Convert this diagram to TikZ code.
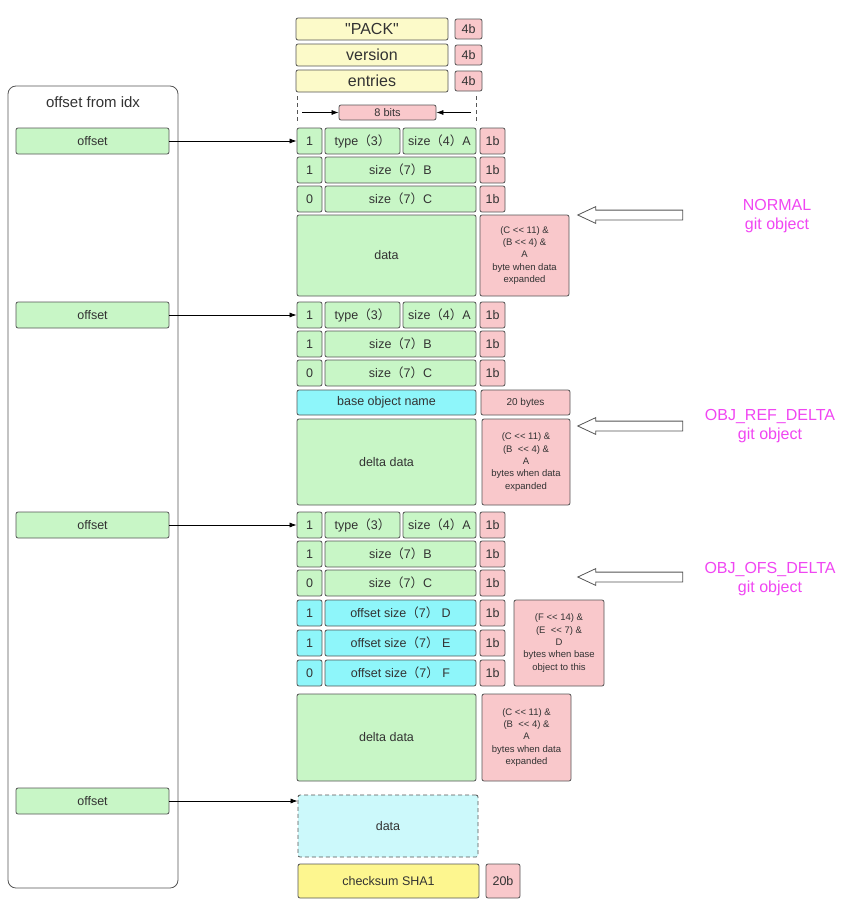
\documentclass[tikz,border=0pt]{standalone}
\usepackage{fontspec}
\setmainfont{Liberation Sans}[Ligatures=TeXOff]
\newfontfamily\cjk{Noto Sans CJK SC}
\usetikzlibrary{arrows.meta,shapes.arrows}
\definecolor{edge}{HTML}{555555}
\definecolor{ink}{HTML}{333333}
\definecolor{greenlt}{HTML}{C8F6C6}
\definecolor{redlt}{HTML}{F9C8CB}
\definecolor{yellowlt}{HTML}{FCFAC9}
\definecolor{yellowdk}{HTML}{FDF68F}
\definecolor{cyanlt}{HTML}{8EF6FA}
\definecolor{cyanpale}{HTML}{CCF9FB}
\definecolor{tagcol}{HTML}{F046F2}
\newcommand\paren[1]{{\cjk（}#1{\cjk）}}
\tikzset{
  box/.style={draw=edge, rounded corners=2pt, align=center, inner sep=0pt,
              text=ink, line width=0.8pt, font=\fontsize{12.5}{14}\selectfont},
  greenbox/.style={box, fill=greenlt},
  redbox/.style={box, fill=redlt},
  yellowbox/.style={box, fill=yellowlt, font=\fontsize{16}{18}\selectfont},
  cyanbox/.style={box, fill=cyanlt},
  note/.style={redbox, font=\fontsize{9.5}{12.4}\selectfont},
  ar/.style={-{Latex[length=7pt,width=5pt]}, line width=0.7pt},
  hollow/.style={single arrow, draw=edge, fill=white, line width=0.8pt,
                 shape border rotate=180, inner sep=4.5pt, minimum height=105pt,
                 single arrow head extend=3.5pt, single arrow tip angle=50},
  tag/.style={text=tagcol, align=center, font=\fontsize{16}{19}\selectfont}
}
\begin{document}
\begin{tikzpicture}[x=1pt,y=-1pt]
  \useasboundingbox (0,0) rectangle (846,910);
  % pack header
  \node[yellowbox, minimum width=152pt, minimum height=22pt] (pack) at (372,29) {"PACK"};
  \node[yellowbox, minimum width=152pt, minimum height=22pt] (version) at (372,55) {version};
  \node[yellowbox, minimum width=152pt, minimum height=22pt] (entries) at (372,81) {entries};
  \node[redbox, minimum width=27pt, minimum height=20pt] (packsz) at (468.5,29) {4b};
  \node[redbox, minimum width=27pt, minimum height=20pt] (versionsz) at (468.5,55) {4b};
  \node[redbox, minimum width=27pt, minimum height=20pt] (entriessz) at (468.5,81) {4b};
  % 8 bits ruler
  \coordinate (ltop) at (297,96);  \coordinate (lbot) at (297,124);
  \coordinate (rtop) at (476,96);  \coordinate (rbot) at (476,124);
  \draw[edge, line width=0.8pt, dash pattern=on 4pt off 3pt] (ltop) -- (lbot) (rtop) -- (rbot);
  \node[redbox, minimum width=97pt, minimum height=15pt, font=\fontsize{11}{13}\selectfont] (bits) at (387.5,112.5) {8 bits};
  \coordinate (bl) at (302,112.5);
  \coordinate (br) at (471,112.5);
  \draw[ar] (bl) -- (bits);
  \draw[ar] (br) -- (bits);

  % object headers
  \foreach \o/\y in {a/128, b/302, c/512} {
    \node[greenbox, minimum width=25pt, minimum height=26pt] (\o-bit1) at (309.5,\y+13) {1};
    \node[greenbox, minimum width=75pt, minimum height=26pt] (\o-type) at (362.5,\y+13) {type\paren{3}};
    \node[greenbox, minimum width=73pt, minimum height=26pt] (\o-sa) at (439.5,\y+13) {size\paren{4}A};
    \node[redbox, minimum width=25pt, minimum height=26pt] (\o-n1) at (492.5,\y+13) {1b};
    \node[greenbox, minimum width=25pt, minimum height=26pt] (\o-bit2) at (309.5,\y+42) {1};
    \node[greenbox, minimum width=151pt, minimum height=26pt] (\o-sb) at (400.5,\y+42) {size\paren{7}B};
    \node[redbox, minimum width=25pt, minimum height=26pt] (\o-n2) at (492.5,\y+42) {1b};
    \node[greenbox, minimum width=25pt, minimum height=26pt] (\o-bit3) at (309.5,\y+71) {0};
    \node[greenbox, minimum width=151pt, minimum height=26pt] (\o-sc) at (400.5,\y+71) {size\paren{7}C};
    \node[redbox, minimum width=25pt, minimum height=26pt] (\o-n3) at (492.5,\y+71) {1b};
  }

  % normal object
  \node[greenbox, minimum width=179pt, minimum height=81pt] (adata) at (386.5,255.5) {data};
  \node[note, minimum width=89pt, minimum height=81pt] (anote) at (524.5,255.5)
    {(C <{}< 11) \&\\(B <{}< 4) \&\\A\\byte when data\\expanded};

  % ref delta
  \node[cyanbox, minimum width=179pt, minimum height=25pt] (bname) at (386.5,402.5) {base object name};
  \node[redbox, minimum width=89pt, minimum height=25pt, font=\fontsize{10}{12}\selectfont] (bnamesz) at (525.5,402.5) {20 bytes};
  \node[greenbox, minimum width=179pt, minimum height=86pt] (bdata) at (386.5,462) {delta data};
  \node[note, minimum width=88pt, minimum height=86pt] (bnote) at (526,462)
    {(C <{}< 11) \&\\(B \ <{}< 4) \&\\A\\bytes when data\\expanded};

  % ofs delta
  \node[cyanbox, minimum width=25pt, minimum height=26pt] (c-d1) at (309.5,613) {1};
  \node[cyanbox, minimum width=151pt, minimum height=26pt] (c-d) at (400.5,613) {offset size\paren{7} D};
  \node[redbox, minimum width=25pt, minimum height=26pt] (c-dn) at (492.5,613) {1b};
  \node[cyanbox, minimum width=25pt, minimum height=26pt] (c-e1) at (309.5,643) {1};
  \node[cyanbox, minimum width=151pt, minimum height=26pt] (c-e) at (400.5,643) {offset size\paren{7} E};
  \node[redbox, minimum width=25pt, minimum height=26pt] (c-en) at (492.5,643) {1b};
  \node[cyanbox, minimum width=25pt, minimum height=26pt] (c-f1) at (309.5,673) {0};
  \node[cyanbox, minimum width=151pt, minimum height=26pt] (c-f) at (400.5,673) {offset size\paren{7} F};
  \node[redbox, minimum width=25pt, minimum height=26pt] (c-fn) at (492.5,673) {1b};
  \node[note, minimum width=90pt, minimum height=86pt] (cofs) at (559,643)
    {(F <{}< 14) \&\\(E \ <{}< 7) \&\\D\\bytes when base\\object to this};
  \node[greenbox, minimum width=179pt, minimum height=87pt] (cdata) at (386.5,737.5) {delta data};
  \node[note, minimum width=89pt, minimum height=87pt] (cnote) at (526.5,737.5)
    {(C <{}< 11) \&\\(B \ <{}< 4) \&\\A\\bytes when data\\expanded};

  % trailer
  \node[box, fill=cyanpale, dash pattern=on 4pt off 3pt, minimum width=180pt, minimum height=62pt] (ddata) at (388,826) {data};
  \node[box, fill=yellowdk, minimum width=181pt, minimum height=34pt] (sha) at (388.5,881) {checksum SHA1};
  \node[redbox, minimum width=34pt, minimum height=34pt] (shasz) at (503,881) {20b};

  % idx column
  \node[draw=edge, rounded corners=8pt, line width=0.8pt, minimum width=170pt, minimum height=802pt] (idx) at (93,487) {};
  \node[text=ink, font=\fontsize{15}{18}\selectfont] (idxtitle) at (93,102) {offset from idx};
  \node[greenbox, minimum width=153pt, minimum height=26pt] (off1) at (92.5,141) {offset};
  \node[greenbox, minimum width=153pt, minimum height=26pt] (off2) at (92.5,315) {offset};
  \node[greenbox, minimum width=153pt, minimum height=26pt] (off3) at (92.5,525) {offset};
  \node[greenbox, minimum width=153pt, minimum height=26pt] (off4) at (92.5,801) {offset};
  \draw[ar] (off1) -- (a-bit1);
  \draw[ar] (off2) -- (b-bit1);
  \draw[ar] (off3) -- (c-bit1);
  \draw[ar] (off4.east) -- (off4.east -| ddata.west);

  % object kinds
  \node[hollow] (arrnormal) at (635.5,215) {};
  \node[hollow] (arrref) at (635.5,426) {};
  \node[hollow] (arrofs) at (635.5,577) {};
  \node[tag] (tagnormal) at (777,216.5) {NORMAL\\git object};
  \node[tag] (tagref) at (770,426.5) {OBJ\_REF\_DELTA\\git object};
  \node[tag] (tagofs) at (770,579) {OBJ\_OFS\_DELTA\\git object};
\end{tikzpicture}
\end{document}
